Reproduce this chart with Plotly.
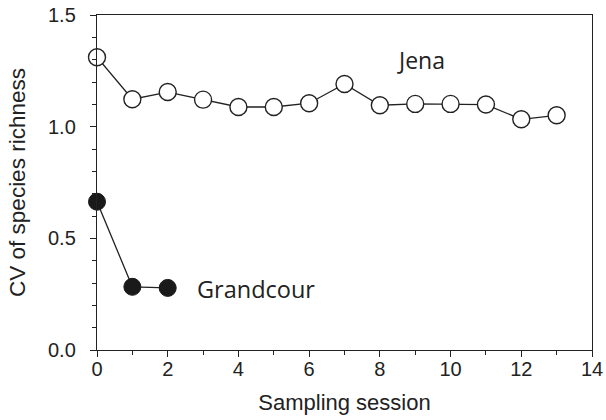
import plotly.graph_objects as go

sessions_jena = list(range(14))
cv_jena = [1.311, 1.123, 1.155, 1.121, 1.088, 1.088, 1.105, 1.191, 1.096, 1.102, 1.102, 1.099, 1.033, 1.051]
sessions_grandcour = [0, 1, 2]
cv_grandcour = [0.664, 0.283, 0.278]
x_ticks = [0, 2, 4, 6, 8, 10, 12, 14]
y_ticks = [0.0, 0.5, 1.0, 1.5]

fig = go.Figure()
fig.add_trace(go.Scatter(
    x=sessions_jena, y=cv_jena, mode="lines+markers",
    line=dict(color="#222222", width=1.3),
    marker=dict(symbol="circle", size=17, color="white", line=dict(color="#222222", width=1.4)),
    showlegend=False, cliponaxis=False))
fig.add_trace(go.Scatter(
    x=sessions_grandcour, y=cv_grandcour, mode="lines+markers",
    line=dict(color="#222222", width=1.3),
    marker=dict(symbol="circle", size=17, color="#1a1a1a", line=dict(color="#1a1a1a", width=1)),
    showlegend=False, cliponaxis=False))

fig.add_annotation(x=9.16, y=1.30, text="Jena", showarrow=False,
                   font=dict(family="Open Sans", size=23, color="#222222"))
fig.add_annotation(x=2.78, y=0.275, text="Grandcour", showarrow=False, xanchor="left",
                   font=dict(family="Open Sans", size=23.5, color="#222222"))

axis_common = dict(
    showgrid=False, zeroline=False, showline=True, linecolor="#222222", linewidth=1.4,
    mirror=True, ticks="outside", ticklen=6, tickwidth=1.3, tickcolor="#222222",
    tickfont=dict(family="Liberation Sans, Arial", size=20, color="#222222"),
    automargin=False,
)
fig.update_xaxes(range=[0, 14], tickvals=x_ticks, ticktext=[str(v) for v in x_ticks],
                 ticklabelstandoff=-5,
                 minor=dict(dtick=1, ticks="outside", ticklen=4, tickwidth=1.3, tickcolor="#222222"),
                 title=dict(text="Sampling session", standoff=15,
                            font=dict(family="Liberation Sans, Arial", size=22, color="#222222")),
                 **axis_common)
fig.update_yaxes(range=[0, 1.5], tickvals=y_ticks, ticktext=[f"{v:.1f}" for v in y_ticks],
                 ticklabelstandoff=10,
                 minor=dict(dtick=0.1, ticks="outside", ticklen=4, tickwidth=1.3, tickcolor="#222222"),
                 title=dict(text="CV of species richness", standoff=16,
                            font=dict(family="Liberation Sans, Arial", size=22.5, color="#222222")),
                 **axis_common)

fig.update_layout(width=606, height=420, margin=dict(l=97, r=14, t=15, b=70),
                  plot_bgcolor="white", paper_bgcolor="white")
fig.write_html("out.html")
